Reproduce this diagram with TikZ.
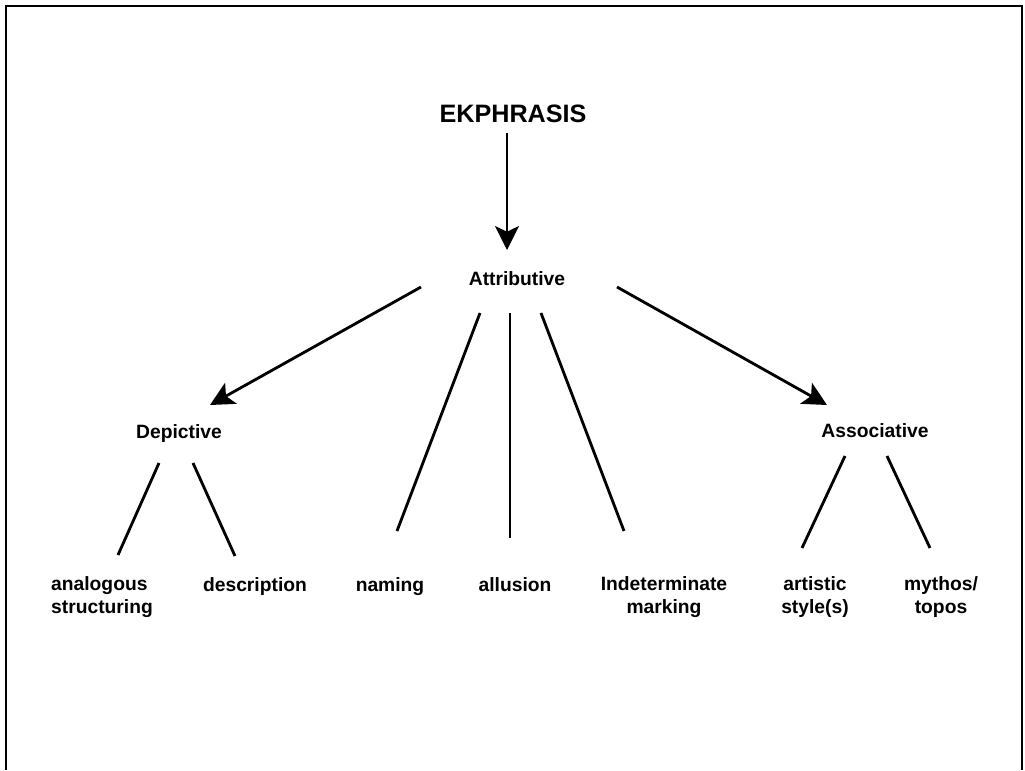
\documentclass[tikz,border=0pt]{standalone}
\usepackage{fontspec}
\setmainfont{Liberation Sans}
\usetikzlibrary{arrows.meta,calc}
\begin{document}
\begin{tikzpicture}[x=0.025cm,y=-0.025cm,
  lbl/.style={font=\bfseries\fontsize{13.7}{15.7}\selectfont, inner sep=0pt, anchor=base, align=center},
  title/.style={font=\bfseries\fontsize{17.9}{21}\selectfont, inner sep=0pt, anchor=base},
  conn/.style={line width=2pt},
  arr/.style={conn, -{Stealth[length=17pt,width=17pt,inset=4pt]}},
  frame/.style={line width=2pt}]
\useasboundingbox (0,0) rectangle (1025,770);
\draw[frame] (6,770) -- (6,6) -- (1022,6) -- (1022,770);

\node[title] (ek) at (513,122) {EKPHRASIS};
\node[lbl] (attr) at (517,285) {Attributive};
\node[lbl] (dep) at (179,438) {Depictive};
\node[lbl] (assoc) at (875,437) {Associative};
\node[lbl, align=left] (anal) at (102,613) {analogous\\structuring};
\node[lbl] (desc) at (255,591) {description};
\node[lbl] (nam) at (390,591) {naming};
\node[lbl] (allu) at (515,591) {allusion};
\node[lbl] (indet) at (664,613) {Indeterminate\\marking};
\node[lbl] (art) at (815,613) {artistic\\style(s)};
\node[lbl] (myth) at (941,613) {mythos/\\topos};

\draw[arr] ($(ek.base)+(-6,11)$) -- ($(attr.base)+(-10,-35)$);
\draw[arr] ($(attr.base)+(-96,2)$) -- ($(dep.base)+(31,-33)$);
\draw[arr] ($(attr.base)+(100,2)$) -- ($(assoc.base)+(-48,-32)$);
\draw[conn] ($(attr.base)+(-37,28)$) -- ($(nam.base)+(7,-60)$);
\draw[conn] ($(attr.base)+(-7,28)$) -- ($(allu.base)+(-5,-53)$);
\draw[conn] ($(attr.base)+(24,28)$) -- ($(indet.base)+(-40,-82)$);
\draw[conn] ($(dep.base)+(-20,25)$) -- ($(anal.base)+(16,-58)$);
\draw[conn] ($(dep.base)+(14,25)$) -- ($(desc.base)+(-20,-35)$);
\draw[conn] ($(assoc.base)+(-30,19)$) -- ($(art.base)+(-13,-65)$);
\draw[conn] ($(assoc.base)+(12,19)$) -- ($(myth.base)+(-11,-65)$);
\end{tikzpicture}
\end{document}
